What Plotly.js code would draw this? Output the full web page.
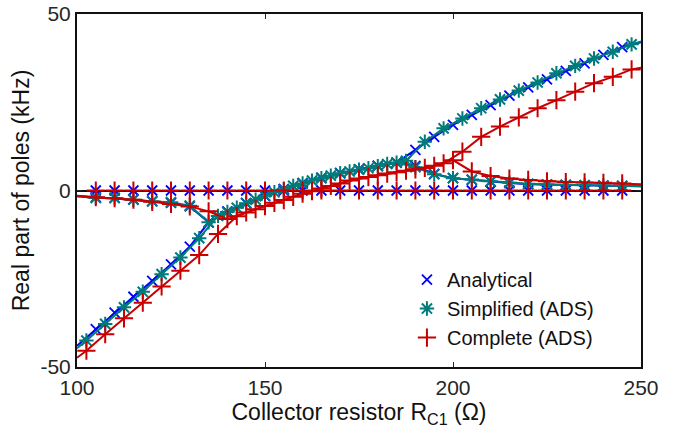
<!DOCTYPE html>
<html>
<head>
<meta charset="utf-8">
<script src="https://cdn.plot.ly/plotly-3.0.1.min.js"></script>
<style>html,body{margin:0;padding:0;background:#fff;}#chart{width:696px;height:438px;}</style>
</head>
<body>
<div id="chart"></div>
<script>
// x positions (collector resistor, ohm)
const xAnalytical = [100,105,110,115,120,125,130,135,140,145,150,155,160,165,170,175,180,185,190,195,200,205,210,215,220,225,230,235,240,245,250];
const xBranchA = [100,102.5,107.5,112.5,117.5,122.5,127.5,132.5,137.5,142.5,147.5,152.5,157.5,162.5,167.5,172.5,177.5,182.5,187.5,192.5,197.5,202.5,207.5,212.5,217.5,222.5,227.5,232.5,237.5,242.5,247.5,250];
const xBranchB = [100,105,110,115,120,125,130,135,140,145,150,155,160,165,170,175,180,185,190,195,200,205,210,215,220,225,230,235,240,245,250];

// Real part of poles (kHz)
const analyticalA = [-44.0,-39.3,-34.6,-30.1,-25.6,-20.9,-15.9,-9.0,-6.0,-3.6,-1.5,0.4,2.1,3.6,4.9,6.0,7.0,7.9,11.5,15.2,18.6,21.4,24.2,26.9,29.2,31.5,33.9,36.0,38.4,40.6,42.0];
const analyticalB = [-1.5,-1.9,-2.1,-2.5,-3.0,-3.5,-4.5,-9.0,-6.0,-3.6,-1.5,0.4,2.1,3.6,4.9,6.0,7.0,7.9,7.0,4.7,3.5,3.0,2.5,2.1,1.8,1.7,1.6,1.5,1.4,1.3,1.2];
const analyticalZero = [0,0,0,0,0,0,0,0,0,0,0,0,0,0,0,0,0,0,0,0,0,0,0,0,0,0,0,0,0,0,0];

const simplifiedA = [-44.7,-42.5,-37.8,-33.1,-28.7,-23.7,-19.0,-13.5,-7.2,-4.9,-2.6,-0.5,1.3,2.8,4.2,5.4,6.3,7.5,8.4,13.8,17.6,20.4,23.3,25.8,28.3,30.6,33.2,35.3,37.4,39.3,41.4,42.2];
const simplifiedB = [-1.6,-2.1,-2.1,-2.6,-3.1,-3.3,-4.3,-9.0,-6.1,-3.6,-1.5,0.3,2.0,3.5,4.9,5.9,6.9,7.9,6.6,4.6,3.5,3.1,2.6,2.2,1.9,1.7,1.6,1.5,1.4,1.3,1.2];

const completeA = [-47.4,-45.4,-40.7,-36.2,-31.8,-27.2,-22.7,-18.3,-12.3,-7.3,-5.3,-3.5,-1.8,-0.2,1.3,2.8,3.8,4.8,5.6,6.4,7.7,11.0,15.2,18.1,20.7,23.3,25.6,28.0,30.4,32.2,34.3,34.8];
const completeB = [-1.6,-1.9,-2.2,-2.6,-3.2,-3.8,-4.5,-5.9,-8.1,-6.2,-4.4,-2.7,-0.9,0.6,2.0,3.4,4.3,5.2,6.0,7.0,8.6,5.4,4.1,3.4,3.0,2.6,2.4,2.3,2.2,2.0,1.8];
const completeZero = [0,0,0,0,0,0,0,0,0,0,0,0,0,0,0,0,0,0,0,0,0,0,0,0,0,0,0,0,0,0,0];

const xTicks = [100,150,200,250];
const yTicks = [-50,0,50];
const seriesNames = ['Analytical','Simplified (ADS)','Complete (ADS)'];

const BLUE = '#0000FF', TEAL = '#007B7B', RED = '#C80000';
const FONT = 'Liberation Sans, Arial, sans-serif';

function lineTrace(x, y, color) {
  return {x: x, y: y, type: 'scatter', mode: 'lines', line: {color: color, width: 2}, showlegend: false, hoverinfo: 'skip'};
}
function markerTrace(x, y, color, symbol, size, lw, name, legend) {
  return {x: x.slice(1, -1), y: y.slice(1, -1), type: 'scatter', mode: 'markers', name: name, showlegend: legend,
    marker: {symbol: symbol, size: size, color: color, line: {color: color, width: lw}}};
}

const traces = [
  lineTrace(xAnalytical, analyticalA, BLUE),
  lineTrace(xAnalytical, analyticalB, BLUE),
  markerTrace(xAnalytical, analyticalZero, BLUE, 'x-thin-open', 10, 1.8, seriesNames[0], true),
  markerTrace(xAnalytical, analyticalA, BLUE, 'x-thin-open', 10, 1.8, seriesNames[0], false),
  markerTrace(xAnalytical, analyticalB, BLUE, 'x-thin-open', 10, 1.8, seriesNames[0], false),
  lineTrace(xBranchA, simplifiedA, TEAL),
  lineTrace(xBranchB, simplifiedB, TEAL),
  markerTrace(xBranchA, simplifiedA, TEAL, 'asterisk-open', 12, 2, seriesNames[1], true),
  markerTrace(xBranchB, simplifiedB, TEAL, 'asterisk-open', 12, 2, seriesNames[1], false),
  lineTrace(xBranchA, completeA, RED),
  lineTrace(xBranchB, completeB, RED),
  markerTrace(xBranchB, completeZero, RED, 'cross-thin-open', 13, 2, seriesNames[2], true),
  markerTrace(xBranchA, completeA, RED, 'cross-thin-open', 13, 2, seriesNames[2], false),
  markerTrace(xBranchB, completeB, RED, 'cross-thin-open', 13, 2, seriesNames[2], false)
];

const tickFont = {family: FONT, size: 21, color: '#262626'};
const titleFont = {family: FONT, size: 23, color: '#111'};

const layout = {
  width: 696, height: 438,
  margin: {l: 77, r: 55, t: 14, b: 71},
  paper_bgcolor: '#fff', plot_bgcolor: '#fff',
  font: tickFont,
  showlegend: true,
  legend: {x: 0.585, y: 0.303, xanchor: 'left', yanchor: 'top', bgcolor: 'rgba(0,0,0,0)',
    font: {family: FONT, size: 20, color: '#111'}, traceorder: 'normal', itemclick: false},
  xaxis: {range: [100, 250], tickvals: xTicks, ticktext: xTicks.map(String), ticks: 'inside', ticklen: 5, tickcolor: '#262626',
    showline: true, mirror: 'ticks', linecolor: '#111', linewidth: 2, showgrid: false, zeroline: false,
    tickfont: tickFont, ticklabelstandoff: 1,
    title: {text: 'Collector resistor R<sub>C1</sub> (Ω)', font: titleFont, standoff: 3}},
  yaxis: {range: [-50, 50], tickvals: yTicks, ticktext: yTicks.map(String), ticks: 'inside', ticklen: 5, tickcolor: '#262626',
    showline: true, mirror: 'ticks', linecolor: '#111', linewidth: 2, showgrid: false,
    zeroline: true, zerolinecolor: '#111', zerolinewidth: 2,
    tickfont: tickFont,
    title: {text: 'Real part of poles (kHz)', font: titleFont, standoff: 4}}
};

Plotly.newPlot('chart', traces, layout, {staticPlot: true, displayModeBar: false});
</script>
</body>
</html>
